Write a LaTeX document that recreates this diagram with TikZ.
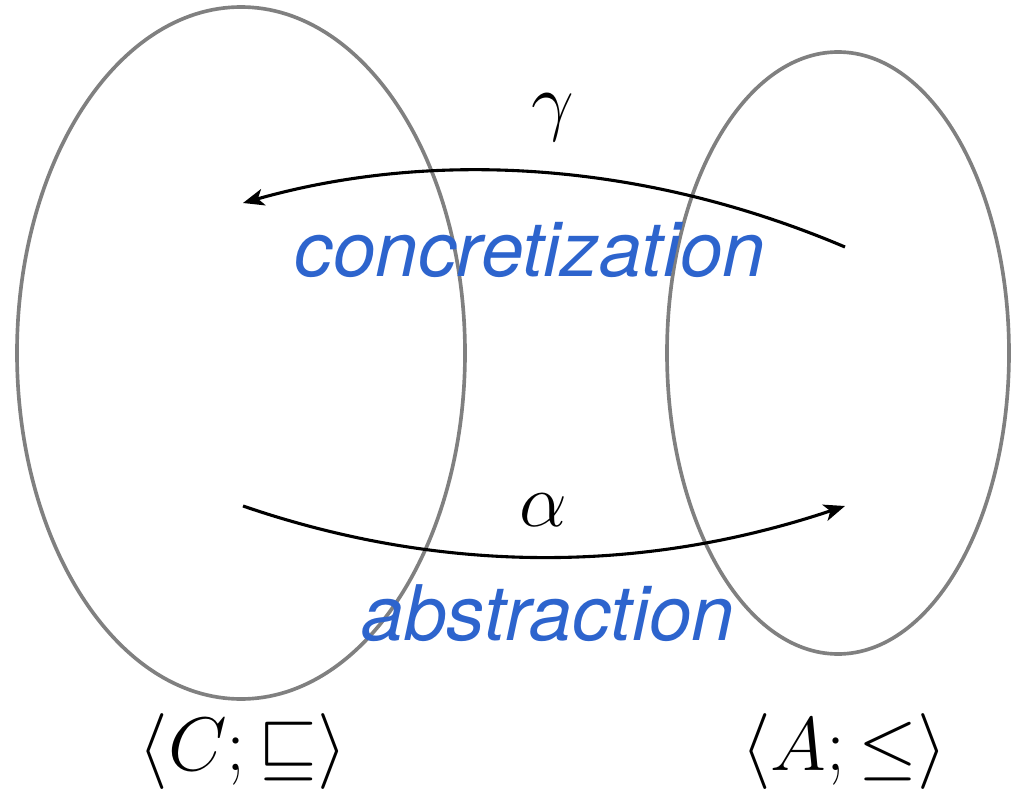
\RequirePackage{fix-cm}
\documentclass[tikz,border=0pt]{standalone}
\usepackage{amsmath}
\usepackage{fontspec}
\newfontfamily\heros{TeX Gyre Heros}
\usetikzlibrary{shapes.geometric, arrows.meta}
\definecolor{SetGray}  {RGB}{128, 128, 128}
\definecolor{LabelBlue}{RGB}{45,  100, 205}

\begin{document}
\begin{tikzpicture}[x=0.025cm, y=-0.025cm,
    lattice/.style={draw=SetGray, line width=2.6pt, ellipse, inner sep=0pt},
    mapping/.style={line width=2.2pt, -{Stealth[length=15pt, width=12pt, inset=4pt]}},
    bigmath/.style={font=\fontsize{54}{60}\selectfont},
    wordlabel/.style={LabelBlue, font=\fontsize{54.5}{60}\selectfont\heros\itshape, anchor=base}]
  \useasboundingbox (0,0) rectangle (1013,801);

  % the two sets
  \node[lattice, minimum width=448*0.025cm, minimum height=692*0.025cm] (conc) at (241,353) {};
  \node[lattice, minimum width=342*0.025cm, minimum height=602*0.025cm] (abst) at (838,353) {};

  \coordinate (gammaStart) at (845,247);
  \coordinate (gammaEnd)   at (243,203);
  \coordinate (alphaStart) at (243,506);
  \coordinate (alphaEnd)   at (845,506);

  % gamma: from A back to C
  \draw[mapping] (gammaStart) .. controls (640,160) and (430,150) .. (gammaEnd);
  \node[bigmath] (gammaLbl) at (553,118) {$\gamma$};
  \node[wordlabel] (concLbl) at (530,276) {concretization};

  % alpha: from C to A
  \draw[mapping] (alphaStart) .. controls (441,574) and (642,574) .. (alphaEnd);
  \node[bigmath] (alphaLbl) at (543,510) {$\alpha$};
  \node[wordlabel] (abstLbl) at (548,640) {abstraction};

  \node[bigmath] (concName) at (243,752) {$\langle C;\sqsubseteq\rangle$};
  \node[bigmath] (abstName) at (844,752) {$\langle A;\leq\rangle$};
\end{tikzpicture}
\end{document}
